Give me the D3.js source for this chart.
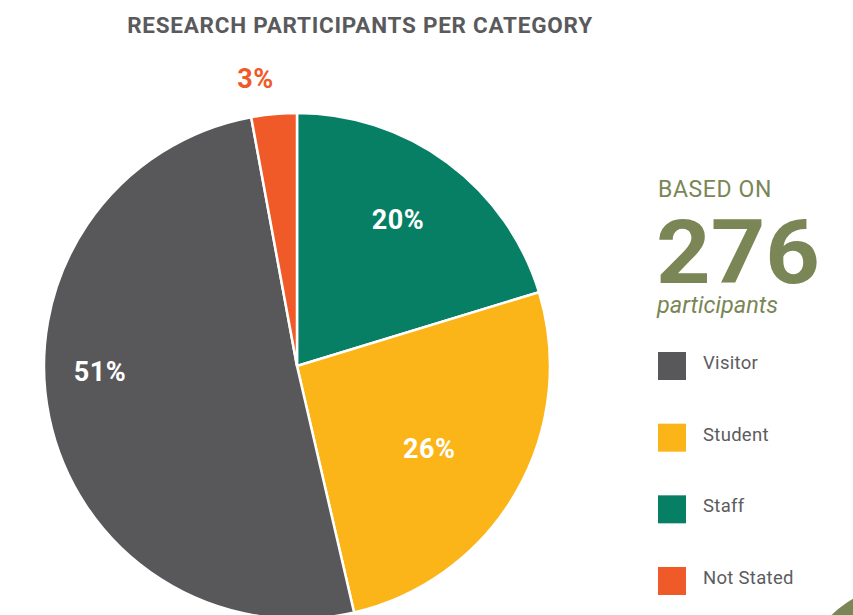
<!DOCTYPE html>
<html>
<head>
<script src="https://d3js.org/d3.v7.min.js"></script>
<style>
  body { margin: 0; background: #fff; }
  svg { font-family: Roboto, "Open Sans", sans-serif; }
</style>
</head>
<body>
<svg width="853" height="615"></svg>
<script>

// participant counts (total 276), drawn clockwise from 12 o'clock
const categories = ["Staff", "Student", "Visitor", "Not Stated"];
const counts = [56, 72, 140, 8];
const colors = ["#067f64", "#fbb519", "#58585a", "#f05a28"];
const legendOrder = ["Visitor", "Student", "Staff", "Not Stated"];
const total = 276;

var svg = d3.select("svg"),
    width = +svg.attr("width"),
    height = +svg.attr("height"),
    radius = 253,
    g = svg.append("g").attr("transform", "translate(297,366)");

var color = d3.scaleOrdinal().domain(categories).range(colors);

var pie = d3.pie()
  .sort(null)
  .value(function(d, i) { return counts[i]; });

var path = d3.arc()
    .outerRadius(radius)
    .innerRadius(0);

// label placement tweaks per slice: radius and angle shift (deg)
var labelPos = {
  "Staff":      { r: 178, da: -2 },
  "Student":    { r: 156, da: 2 },
  "Visitor":    { r: 197, da: 10 },
  "Not Stated": { r: 290, da: -3 }
};

// decorative olive circle in the corner
svg.append("circle")
    .attr("cx", 905)
    .attr("cy", 690)
    .attr("r", 105)
    .attr("fill", "#7b8656");

var arc = g.selectAll(".arc")
    .data(pie(categories))
    .enter().append("g")
      .attr("class", "arc");

arc.append("path")
    .attr("d", path)
    .attr("fill", function(d) { return color(d.data); })
    .attr("stroke", "#fff")
    .attr("stroke-width", 2.5)
    .attr("stroke-linejoin", "round");

arc.append("text")
    .attr("transform", function(d) {
      var p = labelPos[d.data],
          a = (d.startAngle + d.endAngle) / 2 + p.da * Math.PI / 180;
      return "translate(" + (p.r * Math.sin(a)) + "," + (-p.r * Math.cos(a)) + ")";
    })
    .attr("dy", "0.35em")
    .attr("text-anchor", "middle")
    .attr("font-size", 27)
    .attr("font-weight", 700)
    .attr("letter-spacing", 0.5)
    .attr("fill", function(d) { return d.data === "Not Stated" ? "#f05a28" : "#fff"; })
    .text(function(d) { return Math.round(d.value / total * 100) + "%"; });

// title
svg.append("text")
    .attr("x", 360)
    .attr("y", 33)
    .attr("text-anchor", "middle")
    .attr("font-size", 22.5)
    .attr("font-weight", 700)
    .attr("letter-spacing", 0.75)
    .attr("fill", "#5a5a5c")
    .text("RESEARCH PARTICIPANTS PER CATEGORY");

// "based on" block
var info = svg.append("g").attr("fill", "#7b8656");
info.append("text")
    .attr("x", 658)
    .attr("y", 197)
    .attr("font-size", 23)
    .attr("letter-spacing", 0.6)
    .text("BASED ON");
info.append("text")
    .attr("x", 656)
    .attr("y", 283)
    .attr("font-size", 89)
    .attr("font-weight", 700)
    .attr("textLength", 164)
    .attr("lengthAdjust", "spacingAndGlyphs")
    .text(d3.sum(counts));
info.append("text")
    .attr("x", 657)
    .attr("y", 313)
    .attr("font-size", 23.5)
    .attr("font-style", "italic")
    .text("participants");

// legend
var ly = d3.scalePoint()
    .domain(legendOrder)
    .range([352, 567]);

var legend = svg.selectAll(".legend")
    .data(legendOrder)
    .enter().append("g")
      .attr("class", "legend")
      .attr("transform", function(d) { return "translate(658," + ly(d) + ")"; });

legend.append("rect")
    .attr("width", 28)
    .attr("height", 28)
    .attr("fill", function(d) { return color(d); });

legend.append("text")
    .attr("x", 45)
    .attr("y", 17)
    .attr("font-size", 18.5)
    .attr("letter-spacing", 0.3)
    .attr("fill", "#5c5c5e")
    .text(function(d) { return d; });

</script>
</body>
</html>
